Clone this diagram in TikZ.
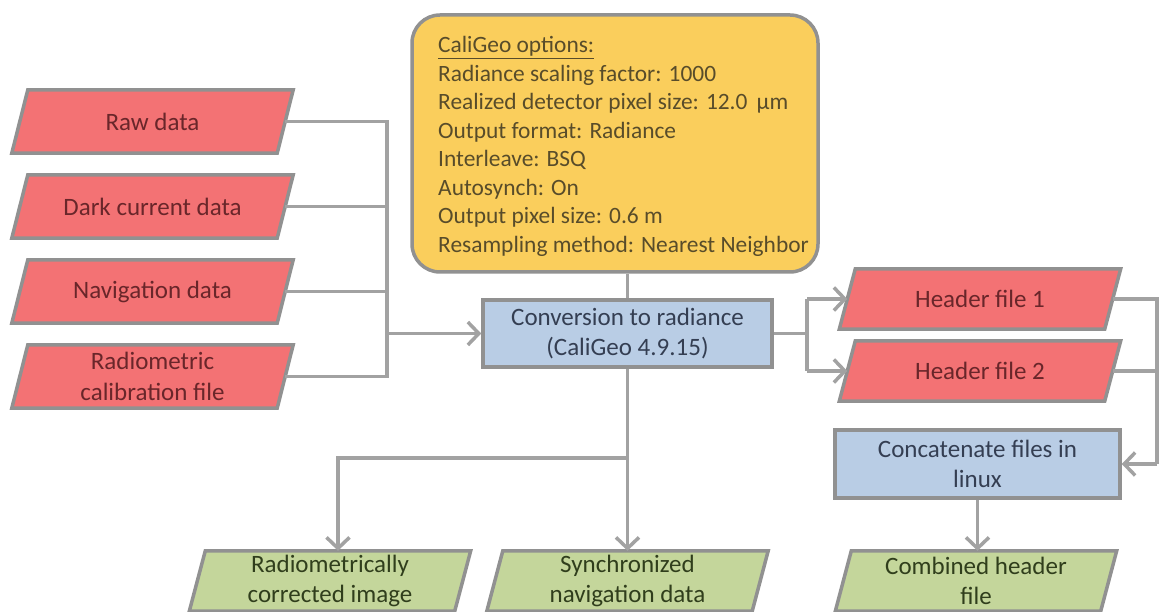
\documentclass[tikz,border=0pt]{standalone}
\usepackage{fontspec}
\setmainfont{Carlito}
\usetikzlibrary{arrows.meta,calc,backgrounds}
\definecolor{linegray}{RGB}{162,162,162}
\definecolor{bordergray}{RGB}{145,145,145}
\definecolor{redfill}{RGB}{243,114,116}
\definecolor{redtext}{RGB}{105,38,42}
\definecolor{greenfill}{RGB}{196,214,155}
\definecolor{greentext}{RGB}{48,62,28}
\definecolor{bluefill}{RGB}{185,205,229}
\definecolor{bluetext}{RGB}{52,62,82}
\definecolor{yellowfill}{RGB}{250,206,92}
\definecolor{yellowtext}{RGB}{88,76,42}
\newcommand\parashape[2]{\path[#2] ($(#1.north west)+(8,0)$) -- ($(#1.north east)+(8,0)$) -- ($(#1.south east)+(-8,0)$) -- ($(#1.south west)+(-8,0)$) -- cycle;}
\begin{document}
\begin{tikzpicture}[x=1pt,y=-1pt,
  txt/.style={font=\fontsize{25}{30.5}\selectfont, align=center, inner sep=0pt},
  inp/.style={txt, text=redtext, minimum width=265pt, minimum height=63pt},
  hdr/.style={txt, text=redtext, minimum width=265pt, minimum height=60pt},
  outp/.style={txt, text=greentext, minimum width=265pt, minimum height=60pt},
  proc/.style={txt, text=bluetext, draw=bordergray, fill=bluefill, line width=3.5pt},
  redpara/.style={draw=bordergray, fill=redfill, line width=3.5pt},
  greenpara/.style={draw=bordergray, fill=greenfill, line width=3.5pt},
  optbox/.style={draw=bordergray, fill=yellowfill, line width=3.5pt, rounded corners=28pt},
  opttext/.style={anchor=north west, inner sep=0pt, align=left, text=yellowtext, font=\fontsize{23.4}{28.5}\selectfont},
  conn/.style={draw=linegray, line width=3.5pt},
  arr/.style={conn, -{Straight Barb[length=11pt,width=23pt]}}
]
\useasboundingbox (0,0) rectangle (1160,612);

% inputs
\node[inp] (raw)  at (152.5,121.5) {Raw data};
\node[inp] (dark) at (152.5,206.5) {Dark current data};
\node[inp] (nav)  at (152.5,291.5) {Navigation data};
\node[inp] (rad)  at (152.5,376.5) {Radiometric\\calibration file};

% options
\node[optbox, minimum width=406pt, minimum height=257pt] (opts) at (615,143.5) {};
\node[opttext] (optstext) at (438,36.5) {\underline{CaliGeo options:}\\
Radiance scaling factor: 1000\\
Realized detector pixel size: 12.0 \,µm\\
Output format: Radiance\\
Interleave: BSQ\\
Autosynch: On\\
Output pixel size: 0.6 m\\
Resampling method: Nearest Neighbor};

% process
\node[proc, minimum width=289pt, minimum height=67pt] (conv) at (627.5,333.5) {Conversion to radiance\\(CaliGeo 4.9.15)};
\node[proc, minimum width=285pt, minimum height=68pt] (conc) at (977.5,464) {Concatenate files in\\linux};

% headers
\node[hdr] (h1) at (980,299) {Header file 1};
\node[hdr] (h2) at (980,371) {Header file 2};

% outputs
\node[outp] (out1) at (330,581) {Radiometrically\\corrected image};
\node[outp] (sync) at (627.5,581) {Synchronized\\navigation data};
\node[outp] (comb) at (976,581) {Combined header\\file};

\begin{scope}[on background layer]
  \foreach \n in {raw,dark,nav,rad,h1,h2} {\parashape{\n}{redpara}}
  \foreach \n in {out1,sync,comb} {\parashape{\n}{greenpara}}
\end{scope}

% connectors left
\coordinate (lj) at (387,334);
\draw[conn] (raw.east) -- (raw.east -| lj) -- (rad.east -| lj) -- (rad.east);
\draw[conn] (dark.east) -- (dark.east -| lj);
\draw[conn] (nav.east) -- (nav.east -| lj);
\draw[arr] (lj |- conv.west) -- (conv.west);
\draw[conn] (opts.south -| conv.north) -- (conv.north);

% connectors right
\coordinate (rj) at (807,334);
\draw[conn] (conv.east) -- (conv.east -| rj);
\draw[conn] (h1.west -| rj) -- (h2.west -| rj);
\draw[arr] (h1.west -| rj) -- (h1.west);
\draw[arr] (h2.west -| rj) -- (h2.west);
\coordinate (rx) at (1157,464);
\draw[conn] (h1.east) -- (h1.east -| rx) -- (rx);
\draw[conn] (h2.east) -- (h2.east -| rx);
\draw[arr] (rx) -- (conc.east);
\draw[arr] (conc.south) -- (conc.south |- comb.north);

% connectors bottom
\coordinate (bj) at (627.5,458);
\draw[arr] (conv.south) -- (conv.south |- sync.north);
\draw[arr] (bj) -| ($(out1.north)+(8,0)$);
\end{tikzpicture}
\end{document}
